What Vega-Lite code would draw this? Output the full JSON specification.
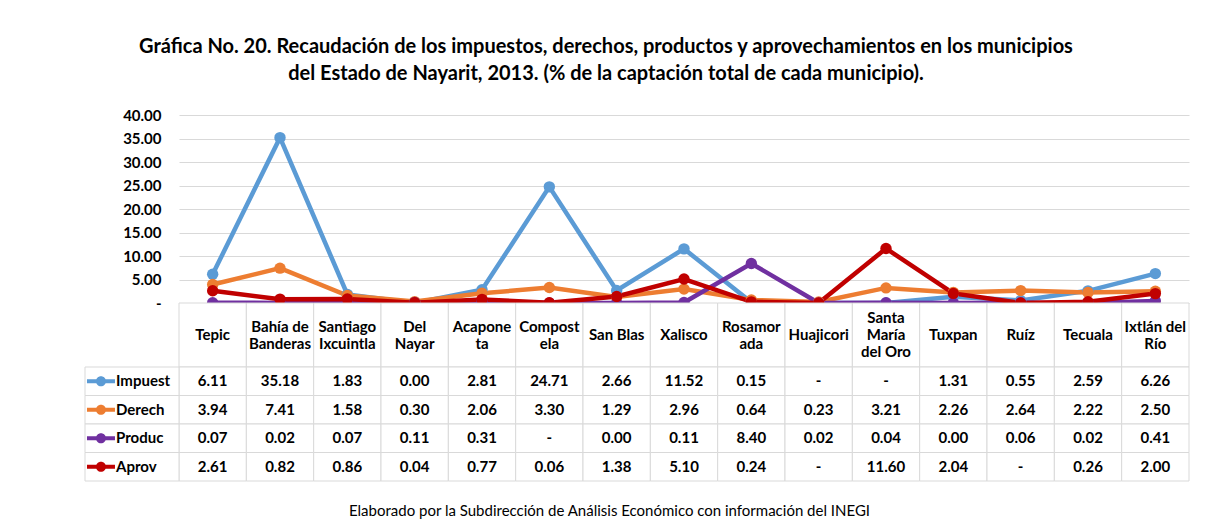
{
  "$schema": "https://vega.github.io/schema/vega-lite/v6.json",
  "background": "white",
  "padding": {"left": 84, "top": 37, "right": 10, "bottom": 5},
  "config": {"view": {"stroke": null}, "font": "Lato"},
  "title": {
    "text": ["Gráfica No. 20. Recaudación de los impuestos, derechos, productos y aprovechamientos en los municipios", "del Estado de Nayarit, 2013. (% de la captación total de cada municipio)."],
    "fontSize": 20, "font": "Lato", "fontWeight": "bold", "lineHeight": 27, "offset": 24, "anchor": "middle", "dx": -31, "color": "#000000"
  },
  "datasets": {
    "vals": [
      {"m": "Tepic", "s": "Impuest", "v": 6.11}, {"m": "Tepic", "s": "Derech", "v": 3.94}, {"m": "Tepic", "s": "Produc", "v": 0.07}, {"m": "Tepic", "s": "Aprov", "v": 2.61},
      {"m": "Bahía de Banderas", "s": "Impuest", "v": 35.18}, {"m": "Bahía de Banderas", "s": "Derech", "v": 7.41}, {"m": "Bahía de Banderas", "s": "Produc", "v": 0.02}, {"m": "Bahía de Banderas", "s": "Aprov", "v": 0.82},
      {"m": "Santiago Ixcuintla", "s": "Impuest", "v": 1.83}, {"m": "Santiago Ixcuintla", "s": "Derech", "v": 1.58}, {"m": "Santiago Ixcuintla", "s": "Produc", "v": 0.07}, {"m": "Santiago Ixcuintla", "s": "Aprov", "v": 0.86},
      {"m": "Del Nayar", "s": "Impuest", "v": 0.0}, {"m": "Del Nayar", "s": "Derech", "v": 0.3}, {"m": "Del Nayar", "s": "Produc", "v": 0.11}, {"m": "Del Nayar", "s": "Aprov", "v": 0.04},
      {"m": "Acaponeta", "s": "Impuest", "v": 2.81}, {"m": "Acaponeta", "s": "Derech", "v": 2.06}, {"m": "Acaponeta", "s": "Produc", "v": 0.31}, {"m": "Acaponeta", "s": "Aprov", "v": 0.77},
      {"m": "Compostela", "s": "Impuest", "v": 24.71}, {"m": "Compostela", "s": "Derech", "v": 3.3}, {"m": "Compostela", "s": "Produc", "v": 0, "d": true}, {"m": "Compostela", "s": "Aprov", "v": 0.06},
      {"m": "San Blas", "s": "Impuest", "v": 2.66}, {"m": "San Blas", "s": "Derech", "v": 1.29}, {"m": "San Blas", "s": "Produc", "v": 0.0}, {"m": "San Blas", "s": "Aprov", "v": 1.38},
      {"m": "Xalisco", "s": "Impuest", "v": 11.52}, {"m": "Xalisco", "s": "Derech", "v": 2.96}, {"m": "Xalisco", "s": "Produc", "v": 0.11}, {"m": "Xalisco", "s": "Aprov", "v": 5.1},
      {"m": "Rosamorada", "s": "Impuest", "v": 0.15}, {"m": "Rosamorada", "s": "Derech", "v": 0.64}, {"m": "Rosamorada", "s": "Produc", "v": 8.4}, {"m": "Rosamorada", "s": "Aprov", "v": 0.24},
      {"m": "Huajicori", "s": "Impuest", "v": 0, "d": true}, {"m": "Huajicori", "s": "Derech", "v": 0.23}, {"m": "Huajicori", "s": "Produc", "v": 0.02}, {"m": "Huajicori", "s": "Aprov", "v": 0, "d": true},
      {"m": "Santa María del Oro", "s": "Impuest", "v": 0, "d": true}, {"m": "Santa María del Oro", "s": "Derech", "v": 3.21}, {"m": "Santa María del Oro", "s": "Produc", "v": 0.04}, {"m": "Santa María del Oro", "s": "Aprov", "v": 11.6},
      {"m": "Tuxpan", "s": "Impuest", "v": 1.31}, {"m": "Tuxpan", "s": "Derech", "v": 2.26}, {"m": "Tuxpan", "s": "Produc", "v": 0.0}, {"m": "Tuxpan", "s": "Aprov", "v": 2.04},
      {"m": "Ruíz", "s": "Impuest", "v": 0.55}, {"m": "Ruíz", "s": "Derech", "v": 2.64}, {"m": "Ruíz", "s": "Produc", "v": 0.06}, {"m": "Ruíz", "s": "Aprov", "v": 0, "d": true},
      {"m": "Tecuala", "s": "Impuest", "v": 2.59}, {"m": "Tecuala", "s": "Derech", "v": 2.22}, {"m": "Tecuala", "s": "Produc", "v": 0.02}, {"m": "Tecuala", "s": "Aprov", "v": 0.26},
      {"m": "Ixtlán del Río", "s": "Impuest", "v": 6.26}, {"m": "Ixtlán del Río", "s": "Derech", "v": 2.5}, {"m": "Ixtlán del Río", "s": "Produc", "v": 0.41}, {"m": "Ixtlán del Río", "s": "Aprov", "v": 2.0}
    ],
    "munis": [
      {"m": "Tepic", "h": ["Tepic"]},
      {"m": "Bahía de Banderas", "h": ["Bahía de", "Banderas"]},
      {"m": "Santiago Ixcuintla", "h": ["Santiago", "Ixcuintla"]},
      {"m": "Del Nayar", "h": ["Del", "Nayar"]},
      {"m": "Acaponeta", "h": ["Acapone", "ta"]},
      {"m": "Compostela", "h": ["Compost", "ela"]},
      {"m": "San Blas", "h": ["San Blas"]},
      {"m": "Xalisco", "h": ["Xalisco"]},
      {"m": "Rosamorada", "h": ["Rosamor", "ada"]},
      {"m": "Huajicori", "h": ["Huajicori"]},
      {"m": "Santa María del Oro", "h": ["Santa", "María", "del Oro"]},
      {"m": "Tuxpan", "h": ["Tuxpan"]},
      {"m": "Ruíz", "h": ["Ruíz"]},
      {"m": "Tecuala", "h": ["Tecuala"]},
      {"m": "Ixtlán del Río", "h": ["Ixtlán del", "Río"]}
    ],
    "series": [{"s": "Impuest"}, {"s": "Derech"}, {"s": "Produc"}, {"s": "Aprov"}]
  },
  "spacing": 0,
  "bounds": "flush",
  "vconcat": [
    {
      "width": 1010,
      "height": 188,
      "data": {"name": "vals"},
      "mark": {"type": "line", "strokeWidth": 4.5, "point": {"filled": true, "size": 130, "opacity": 1}},
      "encoding": {
        "x": {"field": "m", "type": "nominal", "sort": null, "scale": {"type": "point", "padding": 0.5}, "axis": null},
        "y": {
          "field": "v", "type": "quantitative",
          "scale": {"domain": [0, 40], "nice": false},
          "axis": {"values": [0, 5, 10, 15, 20, 25, 30, 35, 40], "labelExpr": "datum.value == 0 ? '-' : format(datum.value, '.2f')", "domain": false, "ticks": false, "grid": true, "gridColor": "#d9d9d9", "labelFontSize": 15, "labelFontWeight": "bold", "labelPadding": 18, "labelColor": "#000000", "title": null}
        },
        "color": {"field": "s", "type": "nominal", "scale": {"domain": ["Impuest", "Derech", "Produc", "Aprov"], "range": ["#5B9BD5", "#ED7D31", "#7030A0", "#C00000"]}, "legend": null}
      }
    },
    {
      "width": 1010,
      "height": 64,
      "data": {"name": "munis"},
      "encoding": {"x": {"field": "m", "type": "nominal", "sort": null, "axis": null, "scale": {"paddingInner": 0, "paddingOuter": 0}}},
      "layer": [
        {"mark": {"type": "rect", "fill": "white", "stroke": "#d9d9d9", "strokeWidth": 1}},
        {"transform": [{"filter": "length(datum.h) == 1"}], "mark": {"type": "text", "fontSize": 15, "fontWeight": "bold", "lineHeight": 17, "color": "#000000"}, "encoding": {"text": {"field": "h"}}},
        {"transform": [{"filter": "length(datum.h) == 2"}], "mark": {"type": "text", "fontSize": 15, "fontWeight": "bold", "lineHeight": 17, "dy": -8.5, "color": "#000000"}, "encoding": {"text": {"field": "h"}}},
        {"transform": [{"filter": "length(datum.h) == 3"}], "mark": {"type": "text", "fontSize": 15, "fontWeight": "bold", "lineHeight": 17, "dy": -17, "color": "#000000"}, "encoding": {"text": {"field": "h"}}}
      ]
    },
    {
      "width": 1010,
      "height": 114,
      "layer": [
        {
          "data": {"name": "vals"},
          "encoding": {
            "x": {"field": "m", "type": "nominal", "sort": null, "scale": {"paddingInner": 0, "paddingOuter": 0}, "axis": {"title": "Elaborado por la Subdirección de Análisis Económico con información del INEGI", "labels": false, "ticks": false, "domain": false, "titlePadding": 22, "titleFontSize": 15, "titleFontWeight": "normal", "titleX": 430, "titleColor": "#000000"}},
            "y": {"field": "s", "type": "nominal", "sort": null, "axis": null, "scale": {"paddingInner": 0, "paddingOuter": 0}}
          },
          "layer": [
            {"mark": {"type": "rect", "fill": "white", "stroke": "#d9d9d9", "strokeWidth": 1}},
            {"mark": {"type": "text", "fontSize": 15, "fontWeight": "bold", "color": "#000000"}, "encoding": {"text": {"condition": {"test": "datum.d", "value": "-"}, "field": "v", "type": "quantitative", "format": ".2f"}}}
          ]
        },
        {
          "data": {"name": "series"},
          "encoding": {
            "x": {"datum": "leyenda", "type": "nominal", "scale": {"range": [-94, 0], "paddingInner": 0, "paddingOuter": 0}, "axis": null},
            "y": {"field": "s", "type": "nominal", "sort": null, "axis": null}
          },
          "layer": [
            {"mark": {"type": "rect", "fill": "white", "stroke": "#d9d9d9", "strokeWidth": 1}},
            {
              "mark": {"type": "point", "filled": true, "opacity": 1, "size": 784, "shape": "M-1,-0.14H1V0.14H-1Z M-0.36,0A0.36,0.36 0 1,1 0.36,0A0.36,0.36 0 1,1 -0.36,0Z"},
              "encoding": {
                "x": {"datum": "leyenda", "type": "nominal", "bandPosition": 0.17},
                "color": {"field": "s", "type": "nominal", "scale": {"domain": ["Impuest", "Derech", "Produc", "Aprov"], "range": ["#5B9BD5", "#ED7D31", "#7030A0", "#C00000"]}, "legend": null}
              }
            },
            {
              "mark": {"type": "text", "align": "left", "fontSize": 15, "fontWeight": "bold", "color": "#000000"},
              "encoding": {"x": {"datum": "leyenda", "type": "nominal", "bandPosition": 0.33}, "text": {"field": "s"}}
            }
          ]
        }
      ],
      "resolve": {"scale": {"x": "independent"}}
    }
  ]
}
